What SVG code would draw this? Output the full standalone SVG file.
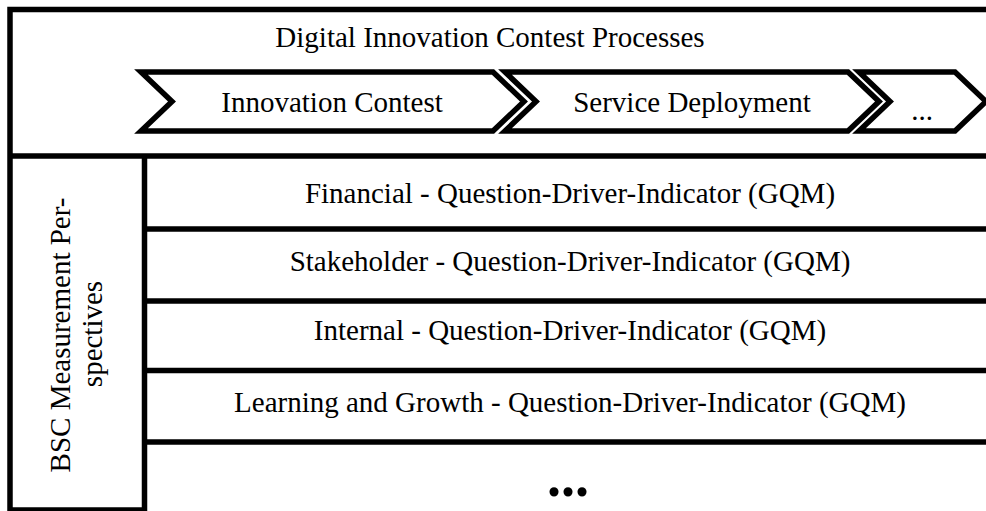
<svg xmlns="http://www.w3.org/2000/svg" width="986" height="511" viewBox="0 0 986 511">
  <style>
    .ln { stroke: #000; stroke-width: 5.5; fill: none; }
    .chev { stroke: #000; stroke-width: 5.5; fill: #fff; stroke-linejoin: miter; stroke-miterlimit: 10; }
    .t { font-family: "Liberation Serif", "Times New Roman", serif; font-size: 29px; fill: #000; text-anchor: middle; }
    .dots { font-family: "Liberation Serif", "Times New Roman", serif; font-size: 56px; font-weight: bold; fill: #000; text-anchor: middle; }
  </style>
  <rect width="986" height="511" fill="#fff"/>

  <g id="frame">
    <path class="ln" d="M10,513 V9.5 H990"/>
    <path class="ln" d="M10,156 H990"/>
    <path class="ln" d="M144.5,156 V513"/>
    <path class="ln" d="M10,510 H144.5"/>
  </g>

  <g id="process-header">
    <text class="t" x="490" y="47">Digital Innovation Contest Processes</text>
  </g>

  <g id="chevron-innovation-contest">
    <path class="chev" d="M141,72 H493 L524,101.5 L493,131 H141 L172,101.5 Z"/>
    <text class="t" x="332" y="112">Innovation Contest</text>
  </g>
  <g id="chevron-service-deployment">
    <path class="chev" d="M505,72 H848 L879,101.5 L848,131 H505 L536,101.5 Z"/>
    <text class="t" x="692" y="112">Service Deployment</text>
  </g>
  <g id="chevron-more">
    <path class="chev" d="M859,72 H955 L986,101.5 L955,131 H859 L890,101.5 Z"/>
    <text class="t" x="922" y="120">...</text>
  </g>

  <g id="bsc-label">
    <text class="t" transform="translate(70,335) rotate(-90)">BSC Measurement Per-</text>
    <text class="t" transform="translate(102,334) rotate(-90)">spectives</text>
  </g>

  <g id="connectors">
    <path class="ln" d="M144.5,229 H990"/>
    <path class="ln" d="M144.5,301 H990"/>
    <path class="ln" d="M144.5,370.5 H990"/>
    <path class="ln" d="M144.5,442 H990"/>
  </g>

  <g id="row-financial">
    <text class="t" x="570" y="203">Financial - Question-Driver-Indicator (GQM)</text>
  </g>
  <g id="row-stakeholder">
    <text class="t" x="570" y="271">Stakeholder - Question-Driver-Indicator (GQM)</text>
  </g>
  <g id="row-internal">
    <text class="t" x="570" y="340">Internal - Question-Driver-Indicator (GQM)</text>
  </g>
  <g id="row-learning">
    <text class="t" x="570" y="412">Learning and Growth - Question-Driver-Indicator (GQM)</text>
  </g>
  <g id="row-more">
    <text class="dots" x="568" y="496">...</text>
  </g>
</svg>
